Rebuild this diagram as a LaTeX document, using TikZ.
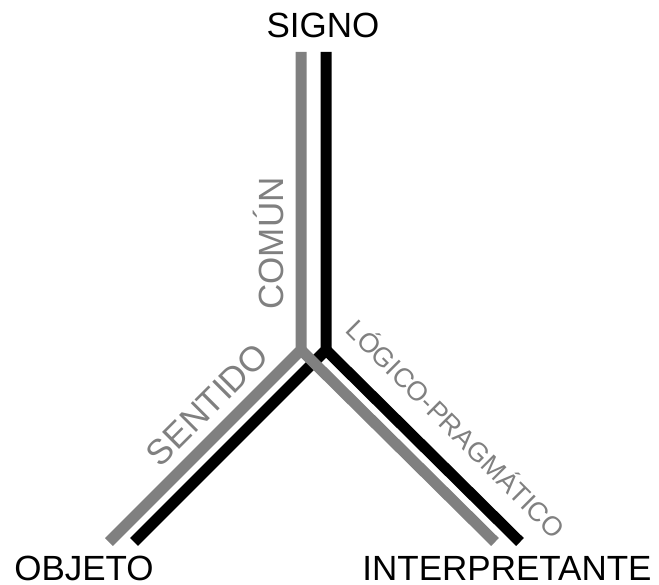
\documentclass[tikz,border=0pt]{standalone}
\usepackage{fontspec}
\setmainfont{Liberation Sans}
\usepackage{tikz}

\begin{document}
\begin{tikzpicture}[x=1pt,y=-1pt,
    gline/.style={draw=black!50,line width=11pt},
    bline/.style={draw=black,line width=11pt},
    tag/.style={inner sep=0pt,anchor=base,font=\fontsize{35}{42}\selectfont},
    lbl/.style={inner sep=0pt,anchor=base,text=black!50,font=\fontsize{35}{42}\selectfont}]
    \useasboundingbox (0,0) rectangle (659,585);
    % the two branching lines
    \coordinate (gtop) at (301,52);
    \coordinate (gmid) at (301,350);
    \coordinate (gleft) at (109,542);
    \coordinate (gright) at (495,542);
    \coordinate (btop) at (326,52);
    \coordinate (bmid) at (326,350);
    \coordinate (bleft) at (134,542);
    \coordinate (bright) at (520,542);
    \draw[bline] (btop) -- (bmid) -- (bleft);
    \draw[bline] (bmid) -- (bright);
    \draw[gline] (gtop) -- (gmid) -- (gleft);
    \draw[gline] (gmid) -- (gright);
    % corners
    \node[tag] (signo) at (323,38) {SIGNO};
    \node[tag] (objeto) at (84,580) {OBJETO};
    \node[tag] (interp) at (507,580) {INTERPRETANTE};
    % labels along the lines
    \node[lbl,rotate=90] (comun) at (283,243.5) {COMÚN};
    \node[lbl,rotate=45] (sentido) at (216,413) {SENTIDO};
    \node[lbl,rotate=-45,font=\fontsize{27}{32}\selectfont] (logico) at (449,436) {LÓGICO-PRAGMÁTICO};
\end{tikzpicture}
\end{document}
